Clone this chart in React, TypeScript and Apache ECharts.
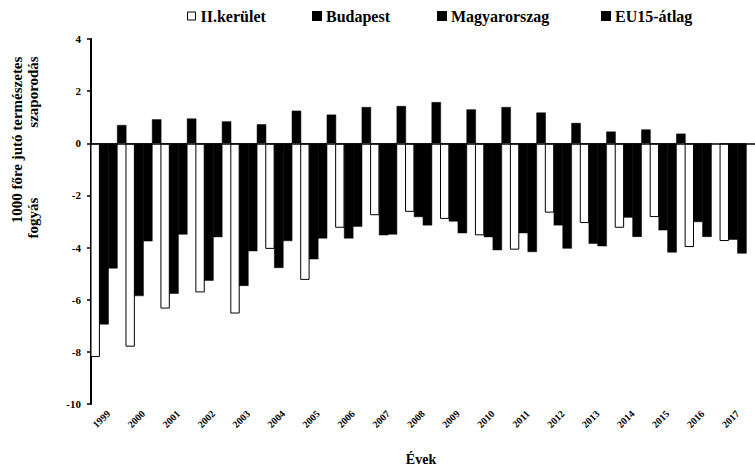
import React, { useEffect, useRef } from "react";
import * as echarts from "echarts";

const years = ["1999","2000","2001","2002","2003","2004","2005","2006","2007","2008","2009","2010","2011","2012","2013","2014","2015","2016","2017"];
const kerulet = [-8.2, -7.8, -6.34, -5.72, -6.53, -4.05, -5.24, -3.24, -2.76, -2.63, -2.9, -3.53, -4.08, -2.66, -3.06, -3.24, -2.83, -3.98, -3.75];
const budapest = [-6.95, -5.86, -5.77, -5.27, -5.47, -4.78, -4.45, -3.65, -3.53, -2.83, -3.0, -3.6, -3.45, -3.15, -3.85, -2.85, -3.34, -3.02, -3.7];
const magyarorszag = [-4.8, -3.76, -3.5, -3.6, -4.14, -3.75, -3.65, -3.2, -3.5, -3.15, -3.45, -4.1, -4.17, -4.04, -3.95, -3.59, -4.19, -3.59, -4.23];
const eu15 = [0.7, 0.92, 0.95, 0.84, 0.73, 1.25, 1.1, 1.39, 1.43, 1.58, 1.3, 1.39, 1.18, 0.78, 0.45, 0.53, 0.37, null, null];
const seriesNames = ["II.kerület", "Budapest", "Magyarorszag", "EU15-átlag"];

const FONT = "'Liberation Serif', 'Times New Roman', serif";

export default function App() {
  const ref = useRef<HTMLDivElement>(null);
  useEffect(() => {
    if (!ref.current) return;
    const chart = echarts.init(ref.current, undefined, { renderer: "svg" });
    const black = "#000";
    const legendPos = [187, 312, 437, 601];
    const legendItemStyles = [
      { color: "#fff", borderColor: "#000", borderWidth: 1 },
      { color: black },
      { color: black },
      { color: black },
    ];
    const blackBar = { color: black, borderColor: black, borderWidth: 0.5 };
    const barCommon = { type: "bar", barWidth: 9.4, barGap: "-6%", barCategoryGap: "0%" };
    const option: any = {
      animation: false,
      backgroundColor: "#fff",
      legend: seriesNames.map((n, i) => ({
        data: [{ name: n, itemStyle: legendItemStyles[i] }],
        left: legendPos[i],
        top: 8,
        padding: 0,
        itemWidth: 8,
        itemHeight: 8,
        icon: "rect",
        selectedMode: false,
        textStyle: { fontFamily: FONT, fontWeight: "bold", fontSize: 16, color: "#000", padding: [0, 0, 0, 0] },
      })),
      grid: { left: 91, right: -10, top: 39, bottom: 63, containLabel: false },
      xAxis: {
        type: "category",
        data: years,
        position: "bottom",
        axisLine: { show: false, onZero: false },
        axisTick: { show: false },
        axisLabel: {
          rotate: 45,
          margin: 8,
          fontFamily: FONT,
          fontWeight: "bold",
          fontSize: 10,
          color: "#000",
          interval: 0,
        },
      },
      yAxis: {
        type: "value",
        min: -10,
        max: 4,
        interval: 2,
        axisLine: { show: true, lineStyle: { color: "#000", width: 2 } },
        axisTick: { show: true, length: 4, lineStyle: { color: "#000", width: 1.5 } },
        splitLine: { show: false },
        axisLabel: { margin: 10, fontFamily: FONT, fontWeight: "bold", fontSize: 11, color: "#000" },
      },
      graphic: [
        {
          type: "text",
          x: 17,
          y: 140,
          rotation: Math.PI / 2,
          style: {
            text: "1000 főre jutó természetes",
            fontFamily: FONT,
            fontWeight: "bold",
            fontSize: 15,
            fill: "#000",
            textAlign: "center",
            textVerticalAlign: "middle",
          },
        },
        {
          type: "text",
          x: 33,
          y: 218,
          rotation: Math.PI / 2,
          style: {
            text: "fogyás",
            fontFamily: FONT,
            fontWeight: "bold",
            fontSize: 15,
            fill: "#000",
            textAlign: "center",
            textVerticalAlign: "middle",
          },
        },
        {
          type: "text",
          x: 33,
          y: 92,
          rotation: Math.PI / 2,
          style: {
            text: "szaporodás",
            fontFamily: FONT,
            fontWeight: "bold",
            fontSize: 15,
            fill: "#000",
            textAlign: "center",
            textVerticalAlign: "middle",
          },
        },
        {
          type: "text",
          x: 421,
          y: 459,
          style: {
            text: "Évek",
            fontFamily: FONT,
            fontWeight: "bold",
            fontSize: 14,
            fill: "#000",
            textAlign: "center",
            textVerticalAlign: "middle",
          },
        },
      ],
      series: [
        {
          ...barCommon,
          name: seriesNames[0],
          data: kerulet,
          itemStyle: { color: "#fff", borderColor: "#000", borderWidth: 1 },
          markLine: {
            silent: true,
            symbol: ["none", "none"],
            label: { show: false },
            lineStyle: { color: "#000", width: 1.5, type: "solid" },
            data: [{ yAxis: 0 }],
          },
        },
        { ...barCommon, name: seriesNames[1], data: budapest, itemStyle: blackBar },
        { ...barCommon, name: seriesNames[2], data: magyarorszag, itemStyle: blackBar },
        { ...barCommon, name: seriesNames[3], data: eu15, itemStyle: blackBar },
      ],
    };
    chart.setOption(option);
    return () => chart.dispose();
  }, []);
  return (
    <div
      ref={ref}
      style={{ position: "fixed", left: 0, top: 0, width: 755, height: 467, background: "#fff" }}
    />
  );
}
